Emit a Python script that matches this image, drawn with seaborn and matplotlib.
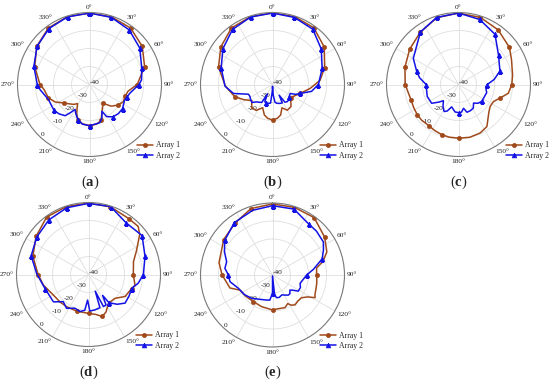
import numpy as np
import pandas as pd
import matplotlib
matplotlib.use("Agg")
import matplotlib.pyplot as plt
import seaborn as sns

sns.set_theme(style="white")
plt.rcParams["font.family"] = ["Liberation Serif", "DejaVu Serif"]
plt.rcParams["mathtext.fontset"] = "custom"
plt.rcParams["mathtext.rm"] = "Liberation Serif"
plt.rcParams["mathtext.bf"] = "Liberation Serif:bold"

# ---------------- data (angle in degrees, gain in dB) ----------------
a1_ang = [0, 18, 36, 54, 72, 90, 100, 108, 117, 126, 135, 144, 150, 157, 162, 170, 180, 190, 198, 204,
          212, 218, 226, 234, 243, 252, 264, 270, 288, 306, 324, 342, 360]
a1_val = [-0.3, -0.5, -1.2, -3.8, -7.8, -13.5, -18.3, -19.2, -18.9, -20.5, -23, -27, -25.5, -22.5, -19, -17.6,
          -17.2, -17.8, -19.3, -22.5, -27.5, -26, -24.5, -22.5, -18.6, -16, -14.5, -12.5, -8, -3.8, -1.2, -0.4, -0.3]
a2_ang = [0, 18, 36, 54, 72, 85, 90, 102, 108, 115, 126, 135, 144, 152, 155, 160, 165, 180, 190, 198,
          205, 210, 214, 218, 226, 234, 250, 264, 270, 288, 306, 324, 342, 360]
a2_val = [-0.3, -0.8, -2.5, -5.5, -9.5, -11, -12.5, -17, -18, -18.6, -17.3, -17.2, -17.8, -19.8, -23.6, -20,
          -18, -17.1, -17.6, -19.3, -22, -24, -21.2, -18, -16.5, -15.6, -15.7, -12.4, -11, -7.5, -4, -1.6, -0.5, -0.3]

b1_ang = [0, 18, 36, 54, 72, 85, 96, 108, 117, 126, 140, 150, 158, 165, 172, 180, 188, 195, 203,
          212, 222, 232, 242, 252, 268, 288, 306, 324, 342, 360]
b1_val = [-0.2, -0.4, -1, -4.5, -9.5, -13.5, -19, -23.9, -26.2, -27.5, -24, -23.5, -26, -22.5, -21, -20.3,
          -21, -22.5, -26, -23, -22.6, -25.5, -22, -18, -13.8, -8.5, -4.5, -1.2, -0.4, -0.2]
b2_ang = [0, 18, 36, 54, 72, 90, 100, 108, 113, 117, 126, 132, 139, 145, 148, 152, 160, 167, 172,
          176, 179, 182, 186, 192, 198, 204, 208, 211, 218, 222, 229, 236, 242, 248, 257, 268, 288, 306,
          324, 342, 360]
b2_val = [-0.3, -0.8, -2, -6.5, -11, -14.5, -18, -23.9, -26, -29, -28.5, -27.6, -27.4, -28, -33, -28.4,
          -28.8, -29.3, -30, -34, -39, -36, -29.6, -29.3, -29, -29.5, -34, -28.4, -27.5, -27, -24.8, -25.3,
          -25.8, -25.6, -17.8, -13.6, -10, -6, -2.2, -0.6, -0.3]

c1_ang = [0, 18, 36, 54, 65, 80, 90, 100, 108, 116, 125, 133, 139, 146, 156, 168, 180, 190, 198, 207,
          216, 226, 234, 243, 252, 260, 270, 288, 306, 324, 342, 360]
c1_val = [-0.3, -0.8, -2.5, -5, -7.5, -9.5, -10.4, -11.9, -15.7, -18.4, -18.6, -17, -15, -11.8, -10.5,
          -10, -10.2, -10.3, -10.6, -11.2, -11.8, -11.5, -11.6, -12, -12.3, -11.8, -10.4, -8.7, -6.5, -4, -1, -0.3]
c2_ang = [0, 18, 36, 54, 72, 82, 90, 96, 106, 115, 126, 134, 141, 148, 156, 163, 168, 174, 180, 187,
          197, 203, 208, 215, 223, 228, 235, 249, 260, 270, 280, 288, 300, 324, 342, 360]
c2_val = [-0.3, -2, -5.5, -12.5, -15.8, -20, -24, -24.8, -23.7, -24.1, -24, -25, -26.7, -24.5, -24, -23.9,
          -26.5, -24.5, -24.4, -24.6, -27, -24, -23, -25, -27.7, -25.4, -21.8, -21.4, -22, -22, -18, -15.5,
          -11, -4, -0.8, -0.3]

d1_ang = [0, 18, 36, 46, 52, 64, 74, 90, 103, 108, 121, 132, 145, 155, 162, 170, 180, 198, 214, 226,
          236, 257, 270, 288, 306, 324, 342, 360]
d1_val = [-0.3, -0.5, -1.7, -1.6, -3.9, -10.4, -14, -15.1, -13.5, -14.8, -16.3, -20.2, -20.6, -17, -15.5,
          -17.5, -18.4, -18.6, -18.4, -18, -17.7, -14.2, -12, -7.5, -4, -0.5, -0.3, -0.3]
d2_ang = [0, 18, 36, 54, 72, 90, 100, 108, 118, 128, 136, 144, 146, 150, 155, 158, 161, 170, 178, 182,
          186, 193, 202, 213, 223, 232, 252, 271, 288, 306, 324, 342, 360]
d2_val = [-0.5, -0.3, -4.5, -3.2, -7, -9.5, -12, -14.8, -14.5, -14.2, -17, -20.6, -26, -20.5, -20.4, -30,
          -20.5, -20, -19.7, -25.8, -20, -18.9, -19.8, -17.6, -19.4, -15.3, -14.6, -11.2, -6.5, -4.5, -2.5,
          -1, -0.5]

e1_ang = [0, 18, 36, 54, 67, 75, 81, 90, 100, 107, 115, 118, 122, 128, 136, 143, 148, 152, 159, 170,
          180, 199, 216, 232, 245, 253, 270, 283, 306, 324, 342, 360]
e1_val = [-0.5, -0.5, -0.6, -4.2, -7.2, -11, -15.2, -15.5, -15, -14.7, -14, -13.2, -17, -19.5, -19.8,
          -19.2, -20.2, -22, -20.6, -21, -20.6, -21.4, -21.8, -21, -20.1, -15.3, -12, -9.5, -6.5, -4.5, -1.2, -0.5]
e2_ang = [0, 18, 36, 45, 57, 64, 72, 82, 90, 107, 114, 122, 127, 131, 137, 142, 149, 155, 163, 170,
          174, 178, 180, 186, 193, 205, 214, 222, 235, 249, 261, 270, 278, 286, 296, 306, 324, 343, 360]
e2_val = [-1.5, -1.5, -5.3, -5.5, -6.3, -8.5, -11, -17, -21, -24, -23, -23.1, -26, -27.2, -25.8, -25.8,
          -27, -27.8, -27, -27.2, -29, -39.5, -30, -26, -25.7, -25, -24, -22.6, -21, -19.6, -16.1, -15.5,
          -13.3, -13.5, -10.3, -7.2, -4, -2.4, -1.5]

series_names = ["Array 1", "Array 2"]
r_ticks = [-40, -30, -20, -10, 0]
theta_ticks = list(range(0, 360, 30))
panel_letters = ["a", "b", "c", "d", "e"]

panels = [
    (a1_ang, a1_val, a2_ang, a2_val),
    (b1_ang, b1_val, b2_ang, b2_val),
    (c1_ang, c1_val, c2_ang, c2_val),
    (d1_ang, d1_val, d2_ang, d2_val),
    (e1_ang, e1_val, e2_ang, e2_val),
]

# ---------------- layout ----------------
W, H = 550, 383
R = 72
centers = [(89.5, 84.5), (272.5, 84.5), (458.5, 84.5), (88.5, 274.5), (272.5, 275.0)]
label_pos = [(90, 182), (273, 182), (459, 182), (89, 372), (273, 372)]

BROWN = "#A04A1C"
BLUE = "#1212E6"
styles = [dict(color=BROWN, marker="o", ms=3.0), dict(color=BLUE, marker="^", ms=3.4)]

fig = plt.figure(figsize=(W / 100, H / 100), dpi=100)

for p, (cx, cy) in enumerate(centers):
    ax = fig.add_axes([(cx - R) / W, (H - cy - R) / H, 2 * R / W, 2 * R / H], projection="polar")
    ax.set_theta_zero_location("N")
    ax.set_theta_direction(-1)
    ang1, val1, ang2, val2 = panels[p]
    for s, (ang, val) in enumerate([(ang1, val1), (ang2, val2)]):
        df = pd.DataFrame({"theta": np.deg2rad(ang), "gain": val})
        idx = [i for i, a in enumerate(ang) if a % 18 == 0]
        st = styles[s]
        sns.lineplot(data=df, x="theta", y="gain", ax=ax, sort=False, estimator=None,
                     color=st["color"], lw=1.1, marker=st["marker"], markersize=st["ms"],
                     markeredgecolor=st["color"], markerfacecolor=st["color"], markeredgewidth=0.5,
                     markevery=idx, label=series_names[s])
    ax.set_xlabel("")
    ax.set_ylabel("")
    ax.set_ylim(-40, 0)
    ax.set_yticks(r_ticks)
    ax.set_yticklabels([str(v) for v in r_ticks], fontsize=5.3, color="#222222")
    ax.set_rlabel_position(223)
    ax.set_xticks(np.deg2rad(theta_ticks))
    ax.set_xticklabels([])
    for t in theta_ticks:
        th = np.deg2rad(t)
        sx, cy_ = np.sin(th), np.cos(th)
        ha = "left" if sx > 0.1 else ("right" if sx < -0.1 else "center")
        va = "bottom" if cy_ > 0.1 else ("top" if cy_ < -0.1 else "center")
        ax.text(th, 1.4, f"{t}°", ha=ha, va=va, fontsize=5.3, color="#222222", clip_on=False)
    ax.grid(True, color="#dedede", linewidth=0.6)
    ax.spines["polar"].set_color("#7a7a7a")
    ax.spines["polar"].set_linewidth(0.8)
    ax.set_facecolor("white")
    ax.legend(loc="upper left", bbox_to_anchor=(0.83, 0.105), frameon=False, fontsize=5.6,
              handlelength=2.0, handletextpad=0.4, labelspacing=0.3, borderaxespad=0, borderpad=0)
    lx, ly = label_pos[p]
    fig.text(lx / W, 1 - ly / H, "(" + r"$\mathbf{" + panel_letters[p] + "}$" + ")",
             ha="center", va="center", fontsize=10.5)

fig.savefig("out.png", dpi=100, facecolor="white")
